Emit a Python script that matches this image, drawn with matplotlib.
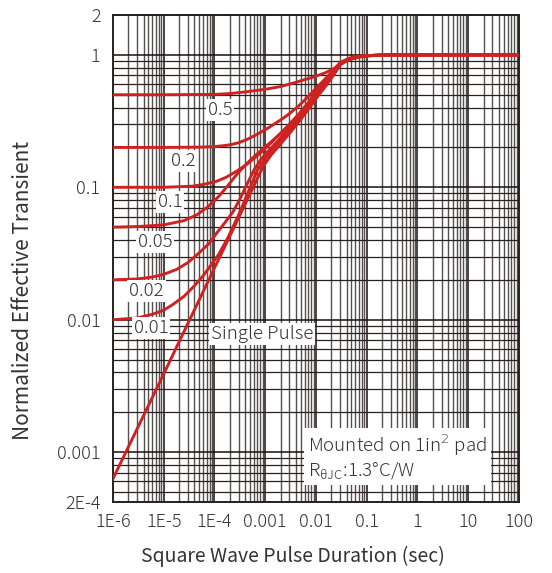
import numpy as np
import matplotlib.pyplot as plt
from matplotlib.ticker import FixedLocator, LogLocator, NullFormatter

plt.rcParams['font.family'] = ['Noto Sans CJK JP', 'DejaVu Sans']
plt.rcParams['font.weight'] = 'light'

# values (pulse duration in sec -> normalized transient)
sp_t = [1e-6, 1e-5, 1e-4, 3e-4, 6e-4, 9e-4, 1.3e-3, 2e-3, 3e-3, 5e-3, 7.5e-3, 1.1e-2,
        1.6e-2, 2.2e-2, 3e-2, 4.5e-2, 7e-2, 0.1, 0.2, 0.3, 100]
sp_z = [6.3e-4, 3.9e-3, 0.0246, 0.059, 0.103, 0.143, 0.175, 0.212, 0.255, 0.325, 0.4, 0.49,
        0.59, 0.7, 0.84, 0.93, 0.97, 0.985, 0.997, 1.0, 1.0]

d01_t = [1e-6, 3e-6, 6e-6, 1e-5, 1.5e-5, 2.5e-5, 4e-5, 6e-5, 8e-5, 1.2e-4, 1.8e-4, 3e-4,
         4.5e-4, 7e-4, 1e-3, 1.5e-3, 2.2e-3, 3.4e-3, 5e-3, 7.5e-3, 1.1e-2, 1.6e-2, 2.2e-2,
         3e-2, 4.5e-2, 7e-2, 0.1, 0.2, 0.3, 100]
d01_z = [0.01, 0.0103, 0.011, 0.0118, 0.013, 0.015, 0.018, 0.0215, 0.025, 0.031, 0.041, 0.062,
         0.09, 0.135, 0.165, 0.2, 0.235, 0.285, 0.335, 0.41, 0.5, 0.6, 0.71, 0.855, 0.935,
         0.97, 0.985, 0.997, 1.0, 1.0]

d02_t = [1e-6, 3e-6, 6e-6, 1e-5, 1.8e-5, 3e-5, 5e-5, 8e-5, 1.1e-4, 1.6e-4, 2.3e-4, 3.2e-4,
         4.5e-4, 6e-4, 8e-4, 1.1e-3, 1.6e-3, 2.3e-3, 3.2e-3, 5e-3, 7.5e-3, 1.1e-2, 1.6e-2,
         2.2e-2, 3e-2, 4.5e-2, 7e-2, 0.1, 0.2, 0.3, 100]
d02_z = [0.02, 0.0203, 0.021, 0.022, 0.024, 0.027, 0.032, 0.038, 0.045, 0.054, 0.065, 0.082,
         0.108, 0.135, 0.16, 0.185, 0.215, 0.25, 0.29, 0.345, 0.42, 0.51, 0.61, 0.72, 0.86,
         0.937, 0.971, 0.986, 0.997, 1.0, 1.0]

d05_t = [1e-6, 3e-6, 1e-5, 2.5e-5, 4.5e-5, 7e-5, 1e-4, 1.3e-4, 1.8e-4, 2.3e-4, 3e-4, 3.8e-4,
         4.8e-4, 6.5e-4, 9e-4, 1.3e-3, 1.9e-3, 2.6e-3, 3.6e-3, 5e-3, 7.5e-3, 1.1e-2, 1.6e-2,
         2.2e-2, 3e-2, 4.5e-2, 7e-2, 0.1, 0.2, 0.3, 100]
d05_z = [0.05, 0.0505, 0.052, 0.056, 0.062, 0.07, 0.079, 0.088, 0.102, 0.115, 0.13, 0.143,
         0.157, 0.175, 0.195, 0.22, 0.25, 0.28, 0.315, 0.355, 0.43, 0.52, 0.62, 0.73, 0.865,
         0.938, 0.972, 0.986, 0.997, 1.0, 1.0]

d1_t = [1e-6, 1e-5, 2e-5, 3.7e-5, 6e-5, 1.1e-4, 1.7e-4, 2.2e-4, 2.8e-4, 3.5e-4, 4.4e-4, 6e-4,
        8.5e-4, 1.2e-3, 1.7e-3, 2.2e-3, 3e-3, 4.5e-3, 7e-3, 1e-2, 1.5e-2, 2.2e-2, 3e-2,
        4.5e-2, 7e-2, 0.1, 0.2, 0.3, 100]
d1_z = [0.1, 0.1, 0.101, 0.102, 0.105, 0.111, 0.119, 0.126, 0.133, 0.141, 0.15, 0.165,
        0.185, 0.21, 0.24, 0.265, 0.3, 0.355, 0.435, 0.53, 0.635, 0.745, 0.87, 0.94,
        0.972, 0.986, 0.997, 1.0, 1.0]

d2_t = [1e-6, 1e-5, 5e-5, 1e-4, 1.5e-4, 2.1e-4, 3e-4, 4.4e-4, 6.5e-4, 1.1e-3, 1.6e-3, 2.2e-3,
        3e-3, 4.5e-3, 6.5e-3, 8.8e-3, 1.3e-2, 2.1e-2, 3e-2, 4.5e-2, 7e-2, 0.1, 0.2, 0.3, 100]
d2_z = [0.2, 0.2, 0.201, 0.203, 0.206, 0.21, 0.217, 0.23, 0.248, 0.278, 0.305, 0.33,
        0.36, 0.41, 0.47, 0.53, 0.62, 0.75, 0.875, 0.943, 0.973, 0.987, 0.997, 1.0, 1.0]

d5_t = [1e-6, 1e-5, 1e-4, 2e-4, 4.4e-4, 1e-3, 1.95e-3, 4e-3, 8.8e-3, 1.5e-2, 2.15e-2, 3e-2,
        4e-2, 5.3e-2, 7e-2, 0.1, 0.2, 0.3, 100]
d5_z = [0.5, 0.5, 0.503, 0.51, 0.527, 0.55, 0.575, 0.62, 0.68, 0.73, 0.78, 0.85,
        0.9, 0.935, 0.96, 0.98, 0.997, 1.0, 1.0]

xticks = [1e-6, 1e-5, 1e-4, 1e-3, 1e-2, 0.1, 1, 10, 100]
xlabels = ['1E-6', '1E-5', '1E-4', '0.001', '0.01', '0.1', '1', '10', '100']
yticks = [4.2e-4, 1e-3, 1e-2, 0.1, 1, 2]
ylabels = ['2E-4', '0.001', '0.01', '0.1', '1', '2']

red = '#cf2220'
txt = '#333333'

fig = plt.figure(figsize=(5.52, 5.73), dpi=100)
ax = fig.add_axes([0.2047, 0.1239, 0.7355, 0.8499])

for t, z in [(sp_t, sp_z), (d01_t, d01_z), (d02_t, d02_z), (d05_t, d05_z),
             (d1_t, d1_z), (d2_t, d2_z), (d5_t, d5_z)]:
    ax.plot(t, z, color=red, lw=2.1, solid_joinstyle='round', zorder=3)

ax.set_xscale('log')
ax.set_yscale('log')
ax.set_xlim(1e-6, 100)
ax.set_ylim(4.2e-4, 2)

ax.xaxis.set_major_locator(FixedLocator(xticks))
ax.set_xticklabels(xlabels)
ax.xaxis.set_minor_locator(LogLocator(base=10, subs=np.arange(2, 10), numticks=20))
ax.xaxis.set_minor_formatter(NullFormatter())
ax.yaxis.set_major_locator(FixedLocator(yticks))
ax.set_yticklabels(ylabels)
ax.yaxis.set_minor_locator(LogLocator(base=10, subs=np.arange(2, 10), numticks=20))
ax.yaxis.set_minor_formatter(NullFormatter())

ax.grid(True, which='major', color='#1a1010', lw=1.1)
ax.grid(True, which='minor', axis='y', color='#2a2020', lw=0.9)
ax.grid(True, which='minor', axis='x', color='#555050', lw=1.0)
ax.set_axisbelow(True)

ax.tick_params(which='both', length=0, pad=9, labelsize=13, colors=txt)
ax.tick_params(axis='x', pad=8)
for s in ax.spines.values():
    s.set_color('#2a2020')
    s.set_linewidth(1.4)

ax.set_xlabel('Square Wave Pulse Duration (sec)', fontsize=14, color=txt)
ax.xaxis.set_label_coords(0.443, -0.09)
ax.set_ylabel('Normalized Effective Transient', fontsize=15, color=txt)
ax.yaxis.set_label_coords(-0.195, 0.435)

box = dict(facecolor='white', edgecolor='none', pad=1.5)
for lab, x, y in [('0.5', 1.28e-4, 0.386), ('0.2', 2.4e-5, 0.157), ('0.1', 1.33e-5, 0.077),
                  ('0.05', 6.7e-6, 0.0386), ('0.02', 4.5e-6, 0.0165), ('0.01', 5.6e-6, 0.0087),
                  ('Single Pulse', 8.6e-4, 0.00785)]:
    ax.text(x, y, lab, fontsize=13.5, color=txt, ha='center', va='center', bbox=box, zorder=4)

ax.text(0.48, 0.093, 'Mounted on 1in$^{2}$ pad\nR$_{\\mathregular{\\theta JC}}$:1.3°C/W',
        transform=ax.transAxes, fontsize=13.5, color=txt, ha='left', va='center',
        linespacing=1.1, zorder=4,
        bbox=dict(facecolor='white', edgecolor='none', pad=3))

fig.savefig('out.png', dpi=100)
